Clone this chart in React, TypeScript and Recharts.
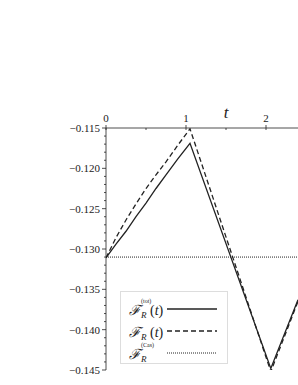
import React from 'react';
import { LineChart, Line, XAxis, YAxis, Legend, Label } from 'recharts';

const T = [0, 0.125, 0.25, 0.375, 0.5, 0.625, 0.75, 0.9, 1.05, 2.06, 2.4];
const F_TOT = [-0.1311, -0.1294, -0.1278, -0.126, -0.1243, -0.1225, -0.1208, -0.1188, -0.1169, -0.1448, -0.1363];
const F_R = [-0.1311, -0.1286, -0.1264, -0.1244, -0.1225, -0.1208, -0.1192, -0.1171, -0.1151, -0.1452, -0.1365];
const F_CAS = [-0.131, -0.131, -0.131, -0.131, -0.131, -0.131, -0.131, -0.131, -0.131, -0.131, -0.131];

const X_TICKS = [0, 0.5, 1, 1.5, 2];
const X_LABELS = [0, 1, 2];
const Y_MAJOR = [-0.145, -0.14, -0.135, -0.13, -0.125, -0.12, -0.115];

// minor ticks every 0.001
const yTicks: number[] = [];
for (let i = 0; i <= 30; i++) yTicks.push((-145 + i) / 1000);

const data = T.map((t, i) => ({ t, tot: F_TOT[i], fr: F_R[i], cas: F_CAS[i] }));

const series = [
  { key: 'tot', dash: undefined as string | undefined, sup: '(tot)', arg: true },
  { key: 'fr', dash: '5 3', sup: '', arg: true },
  { key: 'cas', dash: '1 1', sup: '(Cas)', arg: false },
];

const FONT = '"Liberation Serif", "DejaVu Serif", serif';
const INK = '#222';

const isMajorY = (v: number) => Y_MAJOR.some((m) => Math.abs(m - v) < 1e-7);

const YTick = ({ x, y, payload }: any) => {
  const major = isMajorY(payload.value);
  return (
    <g>
      <line x1={x - (major ? 4 : 2)} x2={x} y1={y} y2={y} stroke={INK} strokeWidth={0.8} />
      {major && (
        <text x={x - 6} y={y + 4} textAnchor="end" fontSize={11} fontFamily={FONT} fill={INK}>
          {payload.value.toFixed(3).replace('-', '\u2212')}
        </text>
      )}
    </g>
  );
};

const XTick = ({ x, y, payload }: any) => {
  const major = X_LABELS.includes(payload.value);
  return (
    <g>
      <line x1={x} x2={x} y1={y - (major ? 3 : 0)} y2={y + 2} stroke={INK} strokeWidth={0.8} />
      {major && (
        <text x={x} y={y - 6} textAnchor="middle" fontSize={11} fontFamily={FONT} fill={INK}>
          {payload.value}
        </text>
      )}
    </g>
  );
};

const LegendBox = () => (
  <div
    style={{
      border: '1px solid #ddd',
      width: 108,
      height: 73,
      boxSizing: 'border-box',
      padding: '6px 0 0 8px',
      fontFamily: FONT,
      color: INK,
    }}
  >
    {series.map((s) => (
      <div key={s.key} style={{ display: 'flex', alignItems: 'center', height: 22 }}>
        <span style={{ width: 38, fontSize: 14, whiteSpace: 'nowrap' }}>
          <span style={{ fontStyle: 'italic' }}>ℱ</span>
          <span style={{ position: 'relative', display: 'inline-block', width: 9 }}>
            <span style={{ fontSize: 9, fontStyle: 'italic', position: 'relative', top: 3 }}>R</span>
            {s.sup && (
              <span style={{ fontSize: 6, position: 'absolute', left: 0, top: -5 }}>{s.sup}</span>
            )}
          </span>
          {s.arg && (
            <span>
              (<i>t</i>)
            </span>
          )}
        </span>
        <svg width={52} height={6}>
          <line x1={0} x2={50} y1={3} y2={3} stroke={INK} strokeWidth={s.dash === '1 1' ? 1 : 1.3} strokeDasharray={s.dash} />
        </svg>
      </div>
    ))}
  </div>
);

export default function App() {
  return (
    <div style={{ position: 'absolute', left: 0, top: 0 }}>
      <LineChart width={298} height={385} data={data} margin={{ top: 98, right: 0, bottom: 15, left: 0 }}>
        <XAxis
          dataKey="t"
          type="number"
          orientation="top"
          domain={[0, 2.4]}
          ticks={X_TICKS}
          height={30}
          tickSize={0}
          tickMargin={0}
          tickLine={false}
          tick={<XTick />}
          axisLine={{ stroke: INK, strokeWidth: 0.8 }}
          allowDataOverflow
        >
          <Label
            content={({ viewBox }: any) => (
              <text
                x={viewBox.x + viewBox.width * 0.625}
                y={viewBox.y + 20}
                fontSize={17}
                fontStyle="italic"
                fontFamily={FONT}
                fill={INK}
                textAnchor="middle"
              >
                t
              </text>
            )}
          />
        </XAxis>
        <YAxis
          type="number"
          domain={[-0.145, -0.115]}
          ticks={yTicks}
          width={106}
          tickSize={0}
          tickMargin={0}
          tickLine={false}
          tick={<YTick />}
          interval={0}
          axisLine={{ stroke: INK, strokeWidth: 0.8 }}
          allowDataOverflow
        />
        <Legend
          layout="vertical"
          align="center"
          verticalAlign="middle"
          wrapperStyle={{ left: 120, top: 291, width: 110, height: 75 }}
          content={<LegendBox />}
        />
        <Line dataKey="tot" name="tot" stroke={INK} strokeWidth={1.3} dot={false} isAnimationActive={false} />
        <Line dataKey="fr" name="fr" stroke={INK} strokeWidth={1.3} strokeDasharray="5 3" dot={false} isAnimationActive={false} />
        <Line dataKey="cas" name="cas" stroke={INK} strokeWidth={1} strokeDasharray="1 1" dot={false} isAnimationActive={false} />
      </LineChart>
    </div>
  );
}
